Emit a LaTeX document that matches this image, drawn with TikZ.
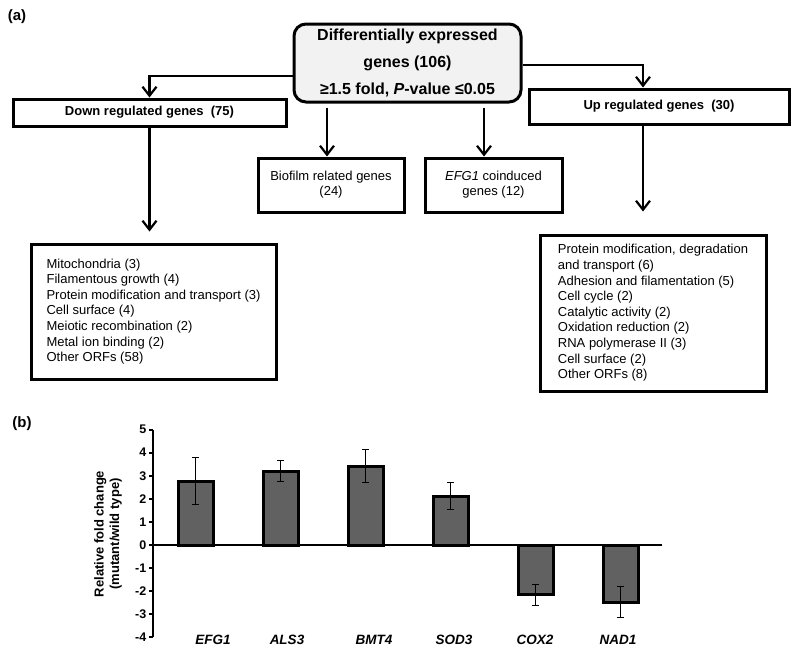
\documentclass[tikz,border=0pt]{standalone}
\usepackage{fontspec}
\setmainfont{Liberation Sans}
\usetikzlibrary{arrows.meta}
\begin{document}
\begin{tikzpicture}[x=1pt,y=-1pt,
  box/.style={draw, line width=3pt, inner sep=0pt},
  arr/.style={line width=2.2pt, -{Straight Barb[length=9pt,width=14pt,line width=2.2pt]}},
  boldlbl/.style={font=\fontsize{13}{15.6}\selectfont\bfseries},
  listtxt/.style={font=\fontsize{13}{15.6}\selectfont, align=left},
  panel/.style={font=\fontsize{15}{18}\selectfont\bfseries},
  bar/.style={draw, line width=3pt, fill=black!62},
  errbar/.style={line width=0.9pt},
  tick/.style={font=\fontsize{12.5}{14}\selectfont\bfseries, anchor=east, inner sep=0pt},
  gene/.style={font=\fontsize{13.5}{16}\selectfont\bfseries\itshape, inner sep=0pt}]
\useasboundingbox (0,0) rectangle (800,654);

% panel labels
\node[panel] (pa) at (17,17) {(a)};
\node[panel] (pb) at (22,424) {(b)};

% central box
\node[box, rounded corners=12pt, fill=black!5, minimum width=227pt, minimum height=78pt,
      align=center, font=\fontsize{16}{27}\selectfont\bfseries] (c) at (407.5,63)
  {Differentially expressed\\genes (106)\\≥1.5 fold, \textit{P}-value ≤0.05};

% level-1 boxes
\node[box, boldlbl, minimum width=273pt, minimum height=27pt] (down) at (149.5,112.5) {Down regulated genes\ \ (75)};
\node[box, boldlbl, minimum width=260pt, minimum height=35pt] (up) at (659,106.5) {Up regulated genes\ \ (30)};
\node[box, align=center, font=\fontsize{13}{15}\selectfont, minimum width=146pt, minimum height=54pt] (bio) at (331,185) {Biofilm related genes\\(24)};
\node[box, align=center, font=\fontsize{13}{15}\selectfont, minimum width=137pt, minimum height=54pt] (efg) at (493.5,185) {\textit{EFG1} coinduced\\genes (12)};

% lists
\node[box, listtxt, minimum width=245pt, minimum height=135pt] (ll) at (153.5,311.5)
 {Mitochondria (3)\\Filamentous growth (4)\\Protein modification and transport (3)\\Cell surface (4)\\Meiotic recombination (2)\\Metal ion binding (2)\\Other ORFs (58)};
\node[box, listtxt, minimum width=226pt, minimum height=156pt] (rl) at (653,313)
 {Protein modification, degradation\\and transport (6)\\Adhesion and filamentation (5)\\Cell cycle (2)\\Catalytic activity (2)\\Oxidation reduction (2)\\RNA polymerase II (3)\\Cell surface (2)\\Other ORFs (8)};

% connectors
\draw[arr] ([yshift=-13pt]c.west) -| (down.north);
\draw[arr] ([yshift=-2pt]c.east) -| ([xshift=-16pt]up.north);
\draw[arr, shorten <=4pt] ([xshift=-4pt]bio.north |- c.south) -- ([xshift=-4pt]bio.north);
\draw[arr, shorten <=4pt] ([xshift=-9.5pt]efg.north |- c.south) -- ([xshift=-9.5pt]efg.north);
\draw[arr, shorten >=11pt] (down.south) -- (down.south |- ll.north);
\draw[arr, shorten >=22pt] ([xshift=-16pt]up.south) -- ([xshift=-16pt]up.south |- rl.north);

% chart
\begin{scope}[shift={(0,545)}, y=23.1pt]
  \draw[line width=2.4pt] (153,-4) coordinate (ybot) -- (153,5) coordinate (ytop);
  \foreach \v in {-4,...,5} {
    \draw[line width=2pt] (149,\v) -- (153,\v);
    \node[tick] (t\v) at (146.5,\v) {\v};
  }
  \foreach \cx/\v/\e [count=\i] in {195.5/2.77/1.0, 280.5/3.2/0.47, 365.5/3.42/0.72, 450.5/2.12/0.58, 535.5/-2.16/0.45, 620.5/-2.47/0.67} {
    \draw[bar] (\cx-17.5,0) rectangle (\cx+17.5,\v);
    \draw[errbar] (\cx,\v-\e) -- (\cx,\v+\e);
    \draw[errbar] (\cx-3.5,\v-\e) -- (\cx+3.5,\v-\e);
    \draw[errbar] (\cx-3.5,\v+\e) -- (\cx+3.5,\v+\e);
  }
  \draw[line width=2.4pt] (153,0) coordinate (zl) -- (662,0) coordinate (zr);
\end{scope}
\node[gene] (g1) at (213,640) {EFG1};
\node[gene] (g2) at (287,640) {ALS3};
\node[gene] (g3) at (374,640) {BMT4};
\node[gene] (g4) at (454,640) {SOD3};
\node[gene] (g5) at (535,640) {COX2};
\node[gene] (g6) at (618,640) {NAD1};
\node[rotate=90, align=center, font=\fontsize{13}{15.6}\selectfont\bfseries] (ylab) at (108,534)
  {Relative fold change\\(mutant/wild type)};
\end{tikzpicture}
\end{document}
